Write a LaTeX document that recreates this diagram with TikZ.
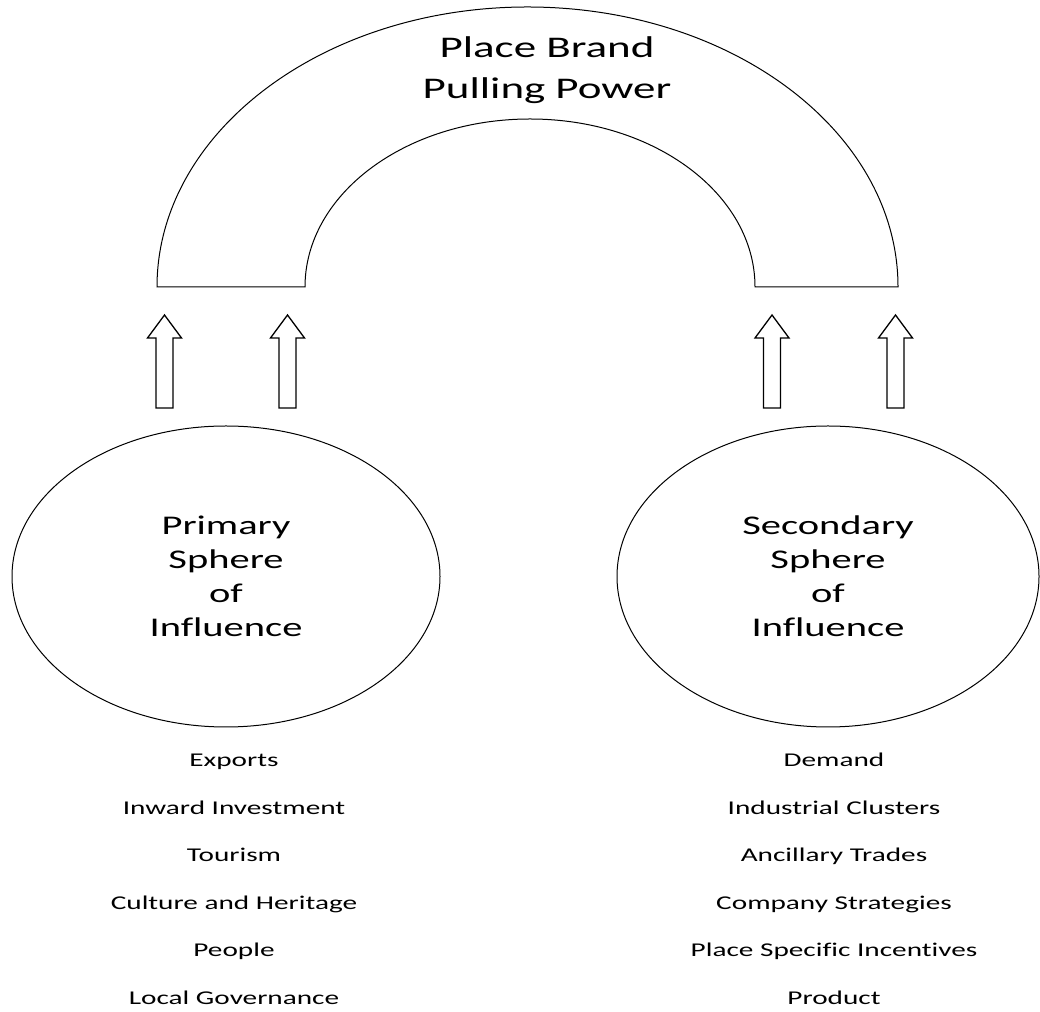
\documentclass[tikz,border=0pt]{standalone}
\usepackage{fontspec}
\setmainfont{Carlito}[FakeStretch=1.5,Ligatures=NoCommon]
\usetikzlibrary{shapes.geometric}

\begin{document}
\begin{tikzpicture}[x=1pt,y=1pt]
        \tikzset{sphere/.style = {shape=ellipse,draw,line width=1pt,inner sep=0pt,align=center,font=\fontsize{27}{34}\selectfont}}
        \tikzset{item/.style = {anchor=base,font=\fontsize{19.5}{24}\selectfont}}
        \tikzset{title/.style = {anchor=base,font=\fontsize{30}{42}\selectfont}}
        \tikzset{blockarrow/.pic = {\draw[line width=1.3pt] (-8.5,0) -- (-8.5,70) -- (-17,70) -- (0,93) -- (17,70) -- (8.5,70) -- (8.5,0) -- cycle;}}
        \useasboundingbox (0,0) rectangle (1040,1011);
        % arch
        \draw[line width=1pt] (157,724) arc[start angle=180,end angle=0,x radius=370.5,y radius=280]
            -- (755,724) arc[start angle=0,end angle=180,x radius=225,y radius=168] -- cycle;
        \node[title] (brand) at (547,953) {Place Brand};
        \node[title] (pull) at (547,912) {Pulling Power};
        % arrows
        \foreach \x in {164.5,287.5,772,895.5}
            \pic at (\x,603) {blockarrow};
        % spheres
        \node[sphere,minimum width=428,minimum height=301] (prim) at (226,434.5) {Primary\\Sphere\\of\\Influence};
        \node[sphere,minimum width=422,minimum height=301] (sec) at (828,434.5) {Secondary\\Sphere\\of\\Influence};
        % lists
        \foreach \t [count=\i] in {Exports,Inward Investment,Tourism,Culture and Heritage,People,Local Governance}
            \node[item] (p\i) at (234,{244-(\i-1)*47.4}) {\t};
        \foreach \t [count=\i] in {Demand,Industrial Clusters,Ancillary Trades,Company Strategies,Place Specific Incentives,Product}
            \node[item] (s\i) at (834,{244-(\i-1)*47.4}) {\t};

    \end{tikzpicture}
\end{document}
